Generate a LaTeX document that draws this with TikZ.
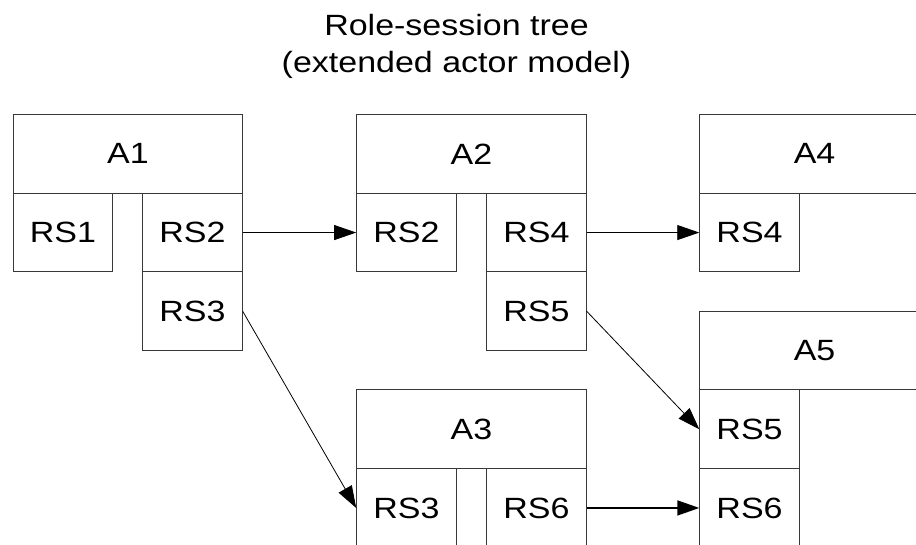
\documentclass[tikz,border=0pt]{standalone}
\usepackage{fontspec}
\setmainfont{Liberation Sans}[FakeStretch=1.16]
\usetikzlibrary{arrows.meta}
\begin{document}
\begin{tikzpicture}[x=1pt,y=-1pt,
  lbl/.style={font=\fontsize{29.3}{29.3}\selectfont},
  box/.style={lbl, draw=black!78, line width=1pt, rectangle, inner sep=0pt, anchor=north west},
  actor/.style={box, minimum width=229.5pt, minimum height=78.7pt},
  rs/.style={box, minimum width=99.5pt, minimum height=78.7pt},
  link/.style={-{Triangle[length=22pt,width=15pt]}, line width=0.8pt, black}]
\useasboundingbox (0,0) rectangle (916,544);
\clip (0,0) rectangle (916,544);

% title
\node[lbl, anchor=base] (title1) at (456.5,35) {Role-session tree};
\node[lbl, anchor=base] (title2) at (456.5,72.7) {(extended actor model)};

% actor A1
\node[actor] (A1) at (12.7,114) {A1};
\node[rs] (A1rs1) at (12.7,192.7) {RS1};
\node[rs] (A1rs2) at (142.2,192.7) {RS2};
\node[rs] (A1rs3) at (142.2,271.4) {RS3};

% actor A2
\node[actor] (A2) at (356.2,114) {A2};
\node[rs] (A2rs2) at (356.2,192.7) {RS2};
\node[rs] (A2rs4) at (486.2,192.7) {RS4};
\node[rs] (A2rs5) at (486.2,271.4) {RS5};

% actor A4
\node[actor] (A4) at (699.3,114) {A4};
\node[rs] (A4rs4) at (699.3,192.7) {RS4};

% actor A5
\node[actor] (A5) at (699.3,310.7) {A5};
\node[rs] (A5rs5) at (699.3,389.4) {RS5};
\node[rs] (A5rs6) at (699.3,468.1) {RS6};

% actor A3
\node[actor] (A3) at (356.2,389.4) {A3};
\node[rs] (A3rs3) at (356.2,468.1) {RS3};
\node[rs] (A3rs6) at (486.2,468.1) {RS6};

% session links
\draw[link] (A1rs2.east) -- (A2rs2.west);
\draw[link] (A2rs4.east) -- (A4rs4.west);
\draw[link] (A1rs3.east) -- (A3rs3.west);
\draw[link] (A2rs5.east) -- (A5rs5.west);
\draw[link, line width=1.6pt] (A3rs6.east) -- (A5rs6.west);
\end{tikzpicture}
\end{document}
